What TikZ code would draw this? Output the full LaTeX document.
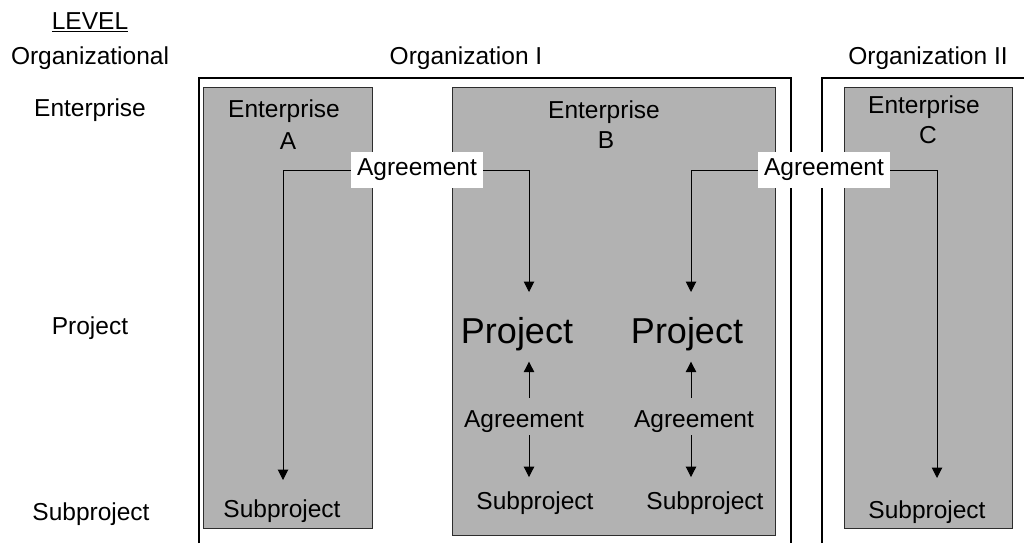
\documentclass[tikz,border=0pt]{standalone}
\usepackage{fontspec}
\setmainfont{Liberation Sans}
\usetikzlibrary{arrows.meta}
\definecolor{entgray}{RGB}{178,178,178}
\definecolor{entline}{RGB}{45,45,45}
\tikzset{
    lbl/.style={inner sep=0pt, anchor=base, font=\fontsize{24.5}{30}\selectfont},
    bigp/.style={inner sep=0pt, anchor=base, font=\fontsize{36}{40}\selectfont},
    agr/.style={fill=white, inner xsep=6pt, minimum height=36pt, font=\fontsize{24.5}{30}\selectfont},
    entbox/.style={fill=entgray, draw=entline, line width=1pt},
    orgline/.style={line width=1.6pt},
    arr/.style={-{Triangle[width=10.5pt,length=10.5pt]}, line width=1pt},
}
\begin{document}
\begin{tikzpicture}[x=1pt,y=-1pt]
        \useasboundingbox (0,0) rectangle (1024,543);
        % organizations
        \draw[orgline] (199,543) -- (199,78) -- (791,78) -- (791,543);
        \draw[orgline] (822,543) -- (822,78) -- (1024,78);
        % enterprises
        \draw[entbox] (203,87) rectangle (372,528);
        \draw[entbox] (452,87) rectangle (775,535);
        \draw[entbox] (844,87) rectangle (1012,528);
        % level column
        \node[lbl] (level) at (90,30) {\underline{LEVEL}};
        \node[lbl] (orglev) at (90,64) {Organizational};
        \node[lbl] (entlev) at (90,116) {Enterprise};
        \node[lbl] (projlev) at (90,334) {Project};
        \node[lbl] (sublev) at (91,520) {Subproject};
        \node[lbl] (org1) at (466,64) {Organization I};
        \node[lbl] (org2) at (928,64) {Organization II};
        \node[lbl] (entA) at (284,117) {Enterprise};
        \node[lbl] (nameA) at (288,149) {A};
        \node[lbl] (entB) at (604,118) {Enterprise};
        \node[lbl] (nameB) at (606,148) {B};
        \node[lbl] (entC) at (924,113) {Enterprise};
        \node[lbl] (nameC) at (928,143) {C};
        \node[bigp] (projB1) at (517,343) {Project};
        \node[bigp] (projB2) at (687,343) {Project};
        \node[lbl] (agrB1) at (524,427) {Agreement};
        \node[lbl] (agrB2) at (694,427) {Agreement};
        \node[lbl] (subA) at (282,517) {Subproject};
        \node[lbl] (subB1) at (535,509) {Subproject};
        \node[lbl] (subB2) at (705,509) {Subproject};
        \node[lbl] (subC) at (927,518) {Subproject};
        \node[agr] (agr1) at (417,170) {Agreement};
        \node[agr] (agr2) at (824,170) {Agreement};
        % arrows
        \coordinate (tipA) at (283,480);
        \coordinate (tipB1) at (529,292);
        \coordinate (tipB2) at (691,292);
        \coordinate (tipC) at (937,478);
        \draw[arr] (agr1.west) -| (tipA);
        \draw[arr] (agr1.east) -| (tipB1);
        \draw[arr] (agr2.west) -| (tipB2);
        \draw[arr] (agr2.east) -| (tipC);
        \draw[arr, shorten <=12pt, shorten >=11pt] (agrB1.north -| tipB1) -- (projB1.south -| tipB1);
        \draw[arr, shorten <=12pt, shorten >=11pt] (agrB2.north -| tipB2) -- (projB2.south -| tipB2);
        \draw[arr, shorten <=3pt, shorten >=14pt] (agrB1.south -| tipB1) -- (subB1.north -| tipB1);
        \draw[arr, shorten <=3pt, shorten >=14pt] (agrB2.south -| tipB2) -- (subB2.north -| tipB2);
\end{tikzpicture}
\end{document}
